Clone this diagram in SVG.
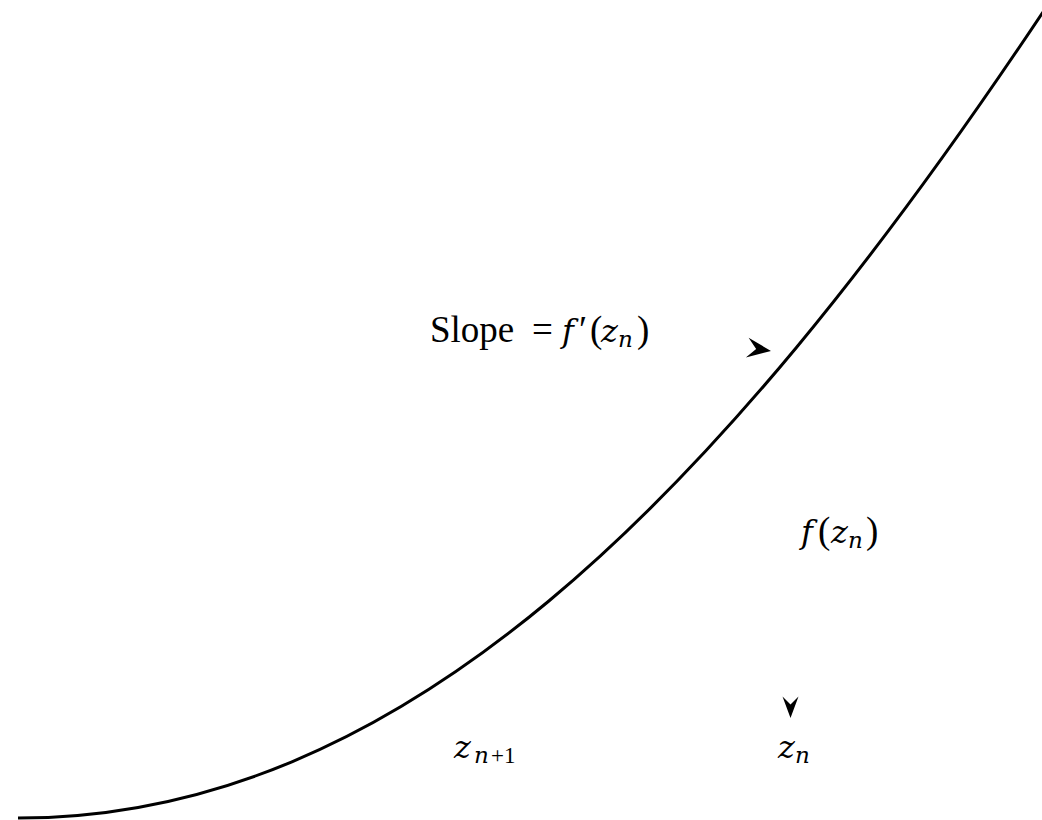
<svg xmlns="http://www.w3.org/2000/svg" width="1042" height="820" viewBox="0 0 1042 820">
<style>
.t{font-family:"Liberation Serif","Times New Roman",serif;font-size:37px;fill:#000}
.i{font-family:"DejaVu Serif",serif;font-style:italic;font-size:32px}
.s{font-size:23px}
.curve{fill:none;stroke:#000;stroke-width:3}
.ah{fill:#000;stroke:none}
</style>
<defs>
<path id="head" d="M0,0 L-24,-10 L-15,0 L-24,10 Z"/>
</defs>
<rect width="1042" height="820" fill="#fff"/>
<g id="connectors">
<path id="curve" class="curve" d="M18,818 C398,818 712,508 1043,12"/>
<use id="arrow-slope" class="ah" href="#head" transform="translate(771,351) rotate(8)"/>
<use id="arrow-zn" class="ah" href="#head" transform="translate(790.5,718) rotate(90) scale(0.9,0.8)"/>
</g>
<g id="label-slope">
<text class="t" y="342"><tspan x="430">Slope</tspan><tspan x="532">=</tspan><tspan x="562" class="i">f</tspan><tspan x="579">′</tspan><tspan x="590">(</tspan><tspan x="601" class="i">z</tspan><tspan x="618" dy="5" class="i s">n</tspan><tspan x="637" dy="-5">)</tspan></text>
</g>
<g id="label-fzn">
<text class="t" y="543"><tspan x="801" class="i">f</tspan><tspan x="818">(</tspan><tspan x="831" class="i">z</tspan><tspan x="848" dy="5" class="i s">n</tspan><tspan x="866" dy="-5">)</tspan></text>
</g>
<g id="label-zn1">
<text class="t" y="758"><tspan x="454" class="i">z</tspan><tspan x="474" dy="5" class="i s">n</tspan><tspan x="491" class="s">+1</tspan></text>
</g>
<g id="label-zn">
<text class="t" y="758"><tspan x="778" class="i">z</tspan><tspan x="795" dy="5" class="i s">n</tspan></text>
</g>
</svg>
